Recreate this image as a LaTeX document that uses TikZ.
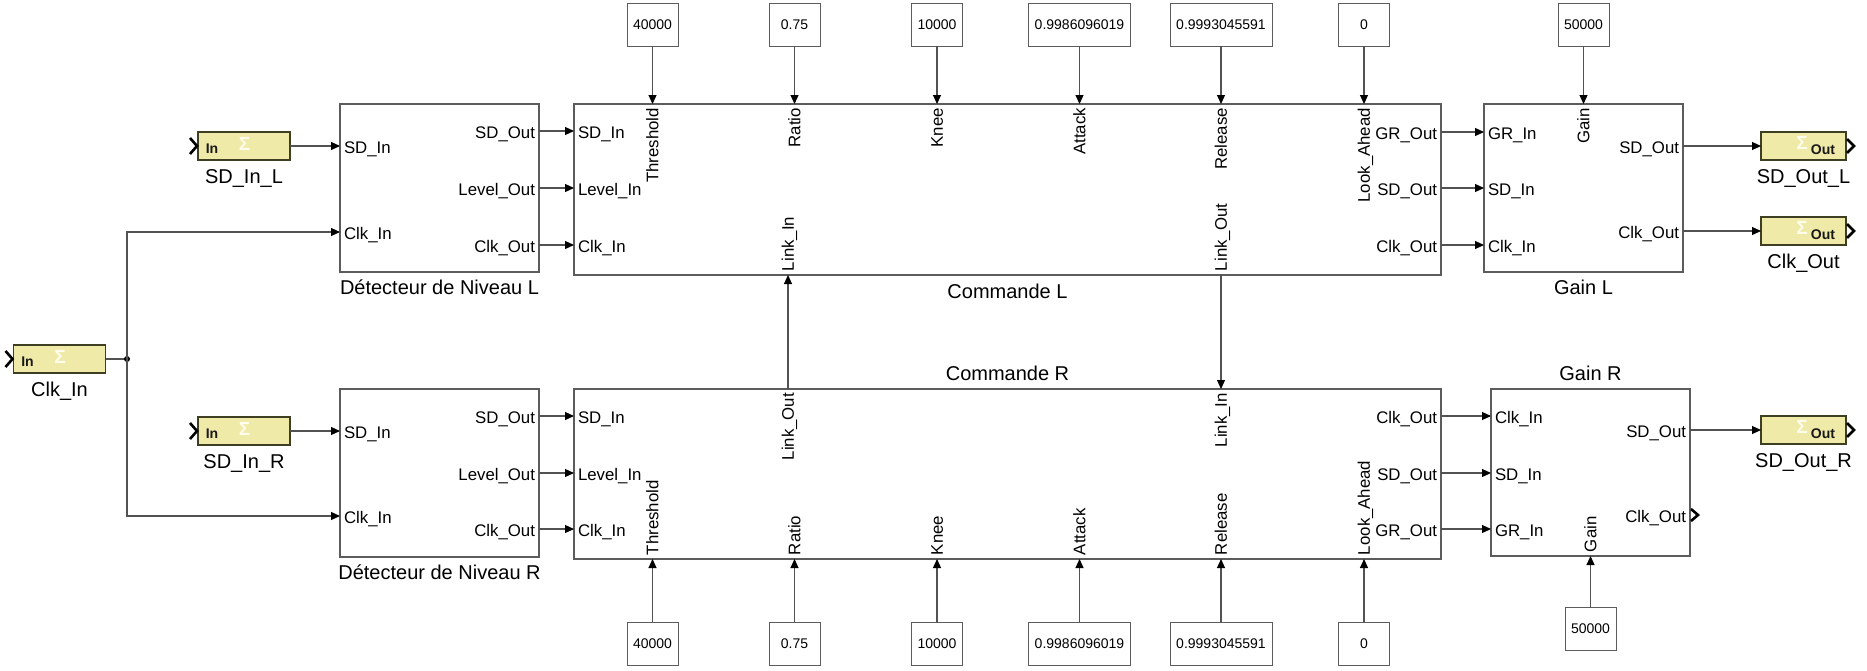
\documentclass[tikz,border=0pt]{standalone}
\usepackage{fontspec}
\setmainfont{Liberation Sans}
\usetikzlibrary{arrows.meta,calc}

\definecolor{portfill}{RGB}{240,234,168}
\definecolor{portedge}{RGB}{62,62,34}
\definecolor{blkedge}{RGB}{92,92,92}
\definecolor{wirecol}{RGB}{82,82,82}
\definecolor{logocol}{RGB}{254,252,236}

\newcommand{\fsz}[1]{\fontsize{#1pt}{#1pt}\selectfont}

% Gateway In port: name, x, y, caption
\newcommand{\gwin}[4]{%
  \node[gwbox, minimum width=92pt] (#1) at (#2,#3) {};
  \node[gwtext, anchor=base] at ($(#1.center)+(-32,7)$) {In};
  \node[gwlogo] at ($(#1.center)+(0.5,-2.5)$) {Σ};
  \draw[chev] ($(#1.west)+(-8,-8)$) -- ($(#1.west)+(-1,0)$) -- ($(#1.west)+(-8,8)$);
  \node[caption] at ($(#1.south)+(0,23)$) {#4};
}
% Gateway Out port: name, x, y, caption
\newcommand{\gwout}[4]{%
  \node[gwbox, minimum width=85pt] (#1) at (#2,#3) {};
  \node[gwtext, anchor=base] at ($(#1.center)+(19.5,8)$) {Out};
  \node[gwlogo] at ($(#1.center)+(-1.5,-3)$) {Σ};
  \draw[chev] ($(#1.east)+(1,-7)$) -- ($(#1.east)+(8,0)$) -- ($(#1.east)+(1,7)$);
  \node[caption] at ($(#1.south)+(0,23)$) {#4};
}

\begin{document}
\begin{tikzpicture}[x=1pt,y=-1pt,
  blk/.style={draw=blkedge, line width=1.3pt, fill=white, inner sep=0pt, outer sep=0pt, anchor=north west},
  plab/.style={font=\fsz{16.8}, inner sep=0pt, inner xsep=4pt, outer sep=0pt, text height=15pt, text depth=0pt},
  lin/.style={plab, anchor=west},
  lout/.style={plab, anchor=east},
  ptop/.style={plab, text height=11.8pt, rotate=90, anchor=east},
  pbot/.style={plab, text height=11.8pt, rotate=90, anchor=west},
  cst/.style={draw=blkedge, line width=1pt, fill=white, font=\fsz{14}, inner sep=0pt, outer sep=0pt, minimum height=43pt},
  cnarrow/.style={cst, minimum width=51pt},
  cwide/.style={cst, minimum width=102pt},
  caption/.style={font=\fsz{20}, inner sep=0pt, anchor=base},
  gwbox/.style={draw=portedge, line width=1.4pt, fill=portfill, minimum height=28pt, inner sep=0pt, outer sep=0pt},
  gwtext/.style={font=\bfseries\fsz{14}, inner sep=0pt, text=black!90},
  gwlogo/.style={font=\bfseries\fsz{19}, inner sep=0pt, text=logocol},
  chev/.style={draw=black, line width=2.6pt, miter limit=4},
  wire/.style={draw=wirecol, line width=1.1pt, -{Triangle[length=9pt,width=8pt,color=black]}},
  line/.style={draw=wirecol, line width=1.1pt}
]
\useasboundingbox (0,0) rectangle (1867,670);

% ---------- gateway ports ----------
\gwin{clkin}{59.5}{359}{Clk\_In}
\gwin{sdinL}{244}{146}{SD\_In\_L}
\gwin{sdinR}{244}{431}{SD\_In\_R}
\gwout{sdoutL}{1803.5}{146}{SD\_Out\_L}
\gwout{clkout}{1803.5}{231}{Clk\_Out}
\gwout{sdoutR}{1803.5}{430}{SD\_Out\_R}

% ---------- level detectors ----------
\node[blk, minimum width=199pt, minimum height=168pt] (detL) at (340,104) {};
\node[blk, minimum width=199pt, minimum height=168pt] (detR) at (340,389) {};
\node[caption] at (439.5,294) {Détecteur de Niveau L};
\node[caption] at (439.5,579) {Détecteur de Niveau R};

\node[lin]  (dLi1) at (340,146) {SD\_In};
\node[lin]  (dLi2) at (340,232) {Clk\_In};
\node[lout] (dLo1) at (539,131) {SD\_Out};
\node[lout] (dLo2) at (539,188) {Level\_Out};
\node[lout] (dLo3) at (539,245) {Clk\_Out};

\node[lin]  (dRi1) at (340,431) {SD\_In};
\node[lin]  (dRi2) at (340,516) {Clk\_In};
\node[lout] (dRo1) at (539,416) {SD\_Out};
\node[lout] (dRo2) at (539,473) {Level\_Out};
\node[lout] (dRo3) at (539,529) {Clk\_Out};

% ---------- compressor control ----------
\node[blk, minimum width=867pt, minimum height=171pt] (cmdL) at (574,104) {};
\node[blk, minimum width=867pt, minimum height=170pt] (cmdR) at (574,389) {};
\node[caption] at (1007.5,298) {Commande L};
\node[caption] at (1007.5,380) {Commande R};

\node[lin]  (cLi1) at (574,131) {SD\_In};
\node[lin]  (cLi2) at (574,188) {Level\_In};
\node[lin]  (cLi3) at (574,245) {Clk\_In};
\node[lout] (cLo1) at (1441,132) {GR\_Out};
\node[lout] (cLo2) at (1441,188) {SD\_Out};
\node[lout] (cLo3) at (1441,245) {Clk\_Out};
\node[ptop] (cLthr) at (652.5,104) {Threshold};
\node[ptop] (cLrat) at (794.5,104) {Ratio};
\node[ptop] (cLkne) at (937,104) {Knee};
\node[ptop] (cLatt) at (1079.5,104) {Attack};
\node[ptop] (cLrel) at (1221,104) {Release};
\node[ptop] (cLlah) at (1364,104) {Look\_Ahead};
\node[pbot] (cLlin) at (788,275) {Link\_In};
\node[pbot] (cLlout) at (1221,275) {Link\_Out};

\node[lin]  (cRi1) at (574,416) {SD\_In};
\node[lin]  (cRi2) at (574,473) {Level\_In};
\node[lin]  (cRi3) at (574,529) {Clk\_In};
\node[lout] (cRo1) at (1441,416) {Clk\_Out};
\node[lout] (cRo2) at (1441,473) {SD\_Out};
\node[lout] (cRo3) at (1441,529) {GR\_Out};
\node[pbot] (cRthr) at (652.5,559) {Threshold};
\node[pbot] (cRrat) at (794.5,559) {Ratio};
\node[pbot] (cRkne) at (937,559) {Knee};
\node[pbot] (cRatt) at (1079.5,559) {Attack};
\node[pbot] (cRrel) at (1221,559) {Release};
\node[pbot] (cRlah) at (1364,559) {Look\_Ahead};
\node[ptop] (cRlout) at (788,389) {Link\_Out};
\node[ptop] (cRlin) at (1221,389) {Link\_In};

% ---------- gain stages ----------
\node[blk, minimum width=199pt, minimum height=168pt] (gainL) at (1484,104) {};
\node[blk, minimum width=199pt, minimum height=167pt] (gainR) at (1491,389) {};
\node[caption] at (1583.5,294) {Gain L};
\node[caption] at (1590.5,380) {Gain R};

\node[lin]  (gLi1) at (1484,132) {GR\_In};
\node[lin]  (gLi2) at (1484,188) {SD\_In};
\node[lin]  (gLi3) at (1484,245) {Clk\_In};
\node[lout] (gLo1) at (1683,146) {SD\_Out};
\node[lout] (gLo2) at (1683,231) {Clk\_Out};
\node[ptop] (gLg)  at (1583.5,104) {Gain};

\node[lin]  (gRi1) at (1491,416) {Clk\_In};
\node[lin]  (gRi2) at (1491,473) {SD\_In};
\node[lin]  (gRi3) at (1491,529) {GR\_In};
\node[lout] (gRo1) at (1690,430) {SD\_Out};
\node[lout] (gRo2) at (1690,515) {Clk\_Out};
\node[pbot] (gRg)  at (1590.5,556) {Gain};
\draw[chev] ($(gRo2.east)+(1,-6)$) -- ($(gRo2.east)+(8,0)$) -- ($(gRo2.east)+(1,6)$);

% ---------- constants ----------
\node[cnarrow] (kT1) at (652.5,24.5) {40000};
\node[cnarrow] (kT2) at (794.5,24.5) {0.75};
\node[cnarrow] (kT3) at (937,24.5) {10000};
\node[cwide]   (kT4) at (1079.5,24.5) {0.9986096019};
\node[cwide]   (kT5) at (1221,24.5) {0.9993045591};
\node[cnarrow] (kT6) at (1364,24.5) {0};
\node[cnarrow] (kT7) at (1583.5,24.5) {50000};

\node[cnarrow] (kB1) at (652.5,643.5) {40000};
\node[cnarrow] (kB2) at (794.5,643.5) {0.75};
\node[cnarrow] (kB3) at (937,643.5) {10000};
\node[cwide]   (kB4) at (1079.5,643.5) {0.9986096019};
\node[cwide]   (kB5) at (1221,643.5) {0.9993045591};
\node[cnarrow] (kB6) at (1364,643.5) {0};
\node[cnarrow] (kB7) at (1590.5,628.5) {50000};

% ---------- clock distribution ----------
\coordinate (jn) at (127,359);
\draw[line] (clkin.east) -- (jn);
\fill[black] (jn) circle (3pt);
\draw[wire] (jn) |- (dLi2.west);
\draw[wire] (jn) |- (dRi2.west);

% ---------- signal connections ----------
\draw[wire] (sdinL.east) -- (dLi1.west);
\draw[wire] (sdinR.east) -- (dRi1.west);

\draw[wire] (dLo1.east) -- (cLi1.west);
\draw[wire] (dLo2.east) -- (cLi2.west);
\draw[wire] (dLo3.east) -- (cLi3.west);
\draw[wire] (dRo1.east) -- (cRi1.west);
\draw[wire] (dRo2.east) -- (cRi2.west);
\draw[wire] (dRo3.east) -- (cRi3.west);

\draw[wire] (cLo1.east) -- (gLi1.west);
\draw[wire] (cLo2.east) -- (gLi2.west);
\draw[wire] (cLo3.east) -- (gLi3.west);
\draw[wire] (cRo1.east) -- (gRi1.west);
\draw[wire] (cRo2.east) -- (gRi2.west);
\draw[wire] (cRo3.east) -- (gRi3.west);

\draw[wire] (gLo1.east) -- (sdoutL.west);
\draw[wire] (gLo2.east) -- (clkout.west);
\draw[wire] (gRo1.east) -- (sdoutR.west);

% stereo link between the two channels
\draw[wire] (cRlout.east) -- (cLlin.west);
\draw[wire] (cLlout.west) -- (cRlin.east);

% parameters
\draw[wire] (kT1.south) -- (cLthr.east);
\draw[wire] (kT2.south) -- (cLrat.east);
\draw[wire] (kT3.south) -- (cLkne.east);
\draw[wire] (kT4.south) -- (cLatt.east);
\draw[wire] (kT5.south) -- (cLrel.east);
\draw[wire] (kT6.south) -- (cLlah.east);
\draw[wire] (kT7.south) -- (gLg.east);

\draw[wire] (kB1.north) -- (cRthr.west);
\draw[wire] (kB2.north) -- (cRrat.west);
\draw[wire] (kB3.north) -- (cRkne.west);
\draw[wire] (kB4.north) -- (cRatt.west);
\draw[wire] (kB5.north) -- (cRrel.west);
\draw[wire] (kB6.north) -- (cRlah.west);
\draw[wire] (kB7.north) -- (gRg.west);
\end{tikzpicture}
\end{document}
